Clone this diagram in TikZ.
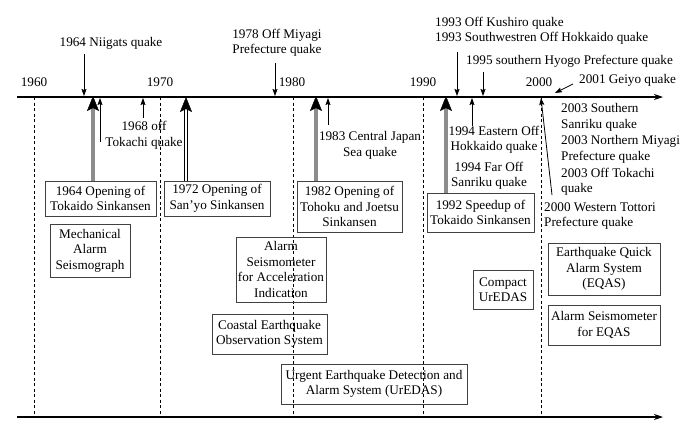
\documentclass[tikz,border=0pt]{standalone}
\usepackage{fontspec}
\setmainfont{Liberation Serif}
\usetikzlibrary{arrows.meta}
\begin{document}
\begin{tikzpicture}[x=1pt,y=-1pt,
  every node/.style={inner sep=0pt, font=\fontsize{13.2}{15.5}\selectfont},
  lbl/.style={align=center},
  lbll/.style={align=left, anchor=west},
  bx/.style={draw=black!75, line width=0.9pt, align=center},
  axis/.style={line width=1.1pt, -{Stealth[length=9pt,width=6pt]}},
  yr/.style={dash pattern=on 3pt off 2.5pt, line width=0.8pt},
  tarr/.style={line width=0.8pt, -{Stealth[length=7pt,width=5pt,inset=1pt]}},
  bigg/.style={line width=4pt, draw=black!45, -{Stealth[length=15pt,width=12pt,inset=3pt,color=black,line width=0.5pt]}, shorten >=-1pt},
  bigd/.style={double=white, double distance=2pt, line width=0.8pt, -{Stealth[length=15pt,width=12pt,inset=3pt,fill=black,line width=0.5pt]}}
]
\useasboundingbox (0,0) rectangle (694,424);
% axes
\coordinate (axL) at (17,97);
\coordinate (axR) at (663,97);
\coordinate (bxL) at (17,417);
\coordinate (bxR) at (663,417);
% dashed year lines
\foreach \n/\x in {y60/34,y70/160,y80/293,y90/423,y00/541}{
  \coordinate (\n t) at (\x,97);
  \coordinate (\n b) at (\x,416);
  \draw[yr] (\n t) -- (\n b);
}
\draw[axis] (axL) -- (axR);
\draw[axis] (bxL) -- (bxR);
% year labels
\node (t1960) at (34,82) {1960};
\node (t1970) at (160,82) {1970};
\node (t1980) at (292,82) {1980};
\node (t1990) at (423,82) {1990};
\node (t2000) at (539,82) {2000};
% quake labels
\node[lbl] (niigata) at (111,43) {1964 Niigats quake};
\node[lbl] (miyagi) at (277,43) {1978 Off Miyagi\\Prefecture quake};
\node[lbll] (kushiro) at (435,31) {1993 Off Kushiro quake\\1993 Southwestren Off Hokkaido quake};
\node[lbll] (hyogo) at (466,61) {1995 southern Hyogo Prefecture quake};
\node[lbll] (geiyo) at (579,80) {2001 Geiyo quake};
\node[lbl] (tokachi) at (144,135.5) {1968 off\\Tokachi quake};
\node[lbl] (central) at (370,145.5) {1983 Central Japan\\Sea quake};
\node[lbl] (eastern) at (494,140) {1994 Eastern Off\\Hokkaido quake};
\node[lbl] (faroff) at (489,176) {1994 Far Off\\Sanriku quake};
\node[lbll] (tottori) at (544,216) {2000 Western Tottori\\Prefecture quake};
\node[lbll] (sanriku) at (561,117.5) {2003 Southern\\Sanriku quake};
\node[lbll] (nmiyagi) at (561,149.5) {2003 Northern Miyagi\\Prefecture quake};
\node[lbll] (otokachi) at (561,182) {2003 Off Tokachi\\quake};
% boxes
\node[bx, minimum width=111pt, minimum height=35pt] (b64) at (100.5,198.5) {1964 Opening of\\Tokaido Sinkansen};
\node[bx, minimum width=106pt, minimum height=35pt] (b72) at (217,198.5) {1972 Opening of\\San’yo Sinkansen};
\node[bx, minimum width=105pt, minimum height=51pt] (b82) at (349.5,206.5) {1982 Opening of\\Tohoku and Joetsu\\Sinkansen};
\node[bx, minimum width=107pt, minimum height=39pt] (b92) at (480.5,212.5) {1992 Speedup of\\Tokaido Sinkansen};
\node[bx, minimum width=80pt, minimum height=53pt] (mech) at (90,250.5) {Mechanical\\Alarm\\Seismograph};
\node[bx, minimum width=90pt, minimum height=65pt] (acc) at (281,269.5) {Alarm\\Seismometer\\for Acceleration\\Indication};
\node[bx, minimum width=115pt, minimum height=40pt] (coastal) at (269.5,334) {Coastal Earthquake\\Observation System};
\node[bx, minimum width=186pt, minimum height=40pt] (uredas) at (374,384) {Urgent Earthquake Detection and\\Alarm System (UrEDAS)};
\node[bx, minimum width=60pt, minimum height=39pt] (compact) at (503,289.5) {Compact\\UrEDAS};
\node[bx, minimum width=112pt, minimum height=52pt] (eqas) at (604,269) {Earthquake Quick\\Alarm System\\(EQAS)};
\node[bx, minimum width=112pt, minimum height=40pt] (aeqas) at (604,325) {Alarm Seismometer\\for EQAS};
% big arrows
\coordinate (a64) at (93,97);
\coordinate (a72) at (186,97);
\coordinate (a82) at (316,97);
\coordinate (a92) at (446,97);
\draw[bigg] (a64 |- b64.north) -- (a64);
\draw[bigd] (a72 |- b72.north) -- (a72);
\draw[bigg] (a82 |- b82.north) -- (a82);
\draw[bigg] (a92 |- b92.north) -- (a92);
% thin up arrows
\coordinate (u1s) at (100,142); \coordinate (u1e) at (100,98);
\coordinate (u2s) at (143,118); \coordinate (u2e) at (143,98);
\coordinate (u3s) at (328,125); \coordinate (u3e) at (328,98);
\coordinate (u4s) at (472,126); \coordinate (u4e) at (472,98);
\coordinate (u5s) at (552,195); \coordinate (u5e) at (541,98);
\draw[tarr] (u1s) -- (u1e);
\draw[tarr] (u2s) -- (u2e);
\draw[tarr] (u3s) -- (u3e);
\draw[tarr] (u4s) -- (u4e);
\draw[tarr] (u5s) -- (u5e);
% down arrows
\coordinate (d1s) at (84,54); \coordinate (d1e) at (84,96);
\coordinate (d2s) at (275,63); \coordinate (d2e) at (275,96);
\coordinate (d3s) at (457,52); \coordinate (d3e) at (457,96);
\coordinate (d4s) at (483,72); \coordinate (d4e) at (483,96);
\coordinate (d5s) at (573,84); \coordinate (d5e) at (555,93);
\draw[tarr] (d1s) -- (d1e);
\draw[tarr] (d2s) -- (d2e);
\draw[tarr] (d3s) -- (d3e);
\draw[tarr] (d4s) -- (d4e);
\draw[tarr] (d5s) -- (d5e);
\end{tikzpicture}
\end{document}
